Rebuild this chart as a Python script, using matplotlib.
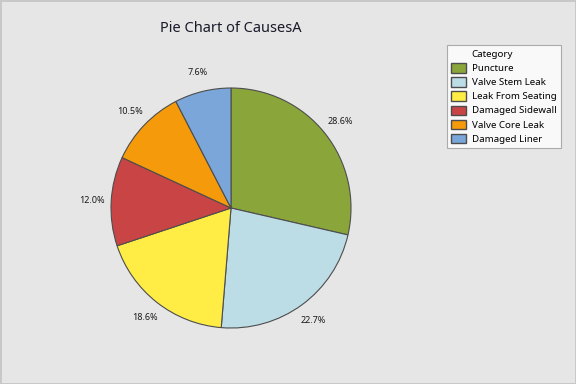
import matplotlib.pyplot as plt
from matplotlib.patches import Patch

categories = ["Puncture", "Valve Stem Leak", "Leak From Seating",
              "Damaged Sidewall", "Valve Core Leak", "Damaged Liner"]
percents = [28.6, 22.7, 18.6, 12.0, 10.5, 7.6]
colors = ["#8aa63a", "#bcdce6", "#ffec45", "#c94545", "#f59a0a", "#7ba6d9"]

plt.rcParams['font.family'] = ['Noto Sans', 'DejaVu Sans']

fig = plt.figure(figsize=(5.76, 3.84), dpi=100, facecolor="#e6e6e6",
                 edgecolor="#c8c8c8", linewidth=2)

ax = fig.add_axes([0.1927, 0.1458, 0.4167, 0.625])
wedges, texts = ax.pie(percents, colors=colors, startangle=90, counterclock=False,
                       labels=[f"{p:.1f}%" for p in percents], labeldistance=1.16,
                       wedgeprops=dict(edgecolor="#4d4d4d", linewidth=0.8),
                       textprops=dict(fontsize=6.5, color="#1a1a1a"))
for t in texts:
    t.set_ha("center")
ax.set_xlim(-1, 1)
ax.set_ylim(-1, 1)
ax.set_aspect("equal")

fig.text(0.40, 0.925, "Pie Chart of CausesA", ha="center", va="center",
         fontsize=10.5, color="#1a1a2a")

# title row as an empty handle so it lines up with the labels
handles = [Patch(facecolor="none", edgecolor="none", label="Category")]
handles += [Patch(facecolor=c, edgecolor="#4d4d4d", label=n) for c, n in zip(colors, categories)]
leg = fig.legend(handles=handles, loc="upper left",
                 bbox_to_anchor=(0.776, 0.883), fontsize=7,
                 frameon=True, fancybox=False, edgecolor="#9a9a9a",
                 handlelength=1.5, handleheight=1.1, handletextpad=0.6,
                 labelspacing=0.42, borderpad=0.45, borderaxespad=0)
leg.get_frame().set_linewidth(0.8)

fig.savefig("out.png", dpi=100, facecolor=fig.get_facecolor(), edgecolor=fig.get_edgecolor())
